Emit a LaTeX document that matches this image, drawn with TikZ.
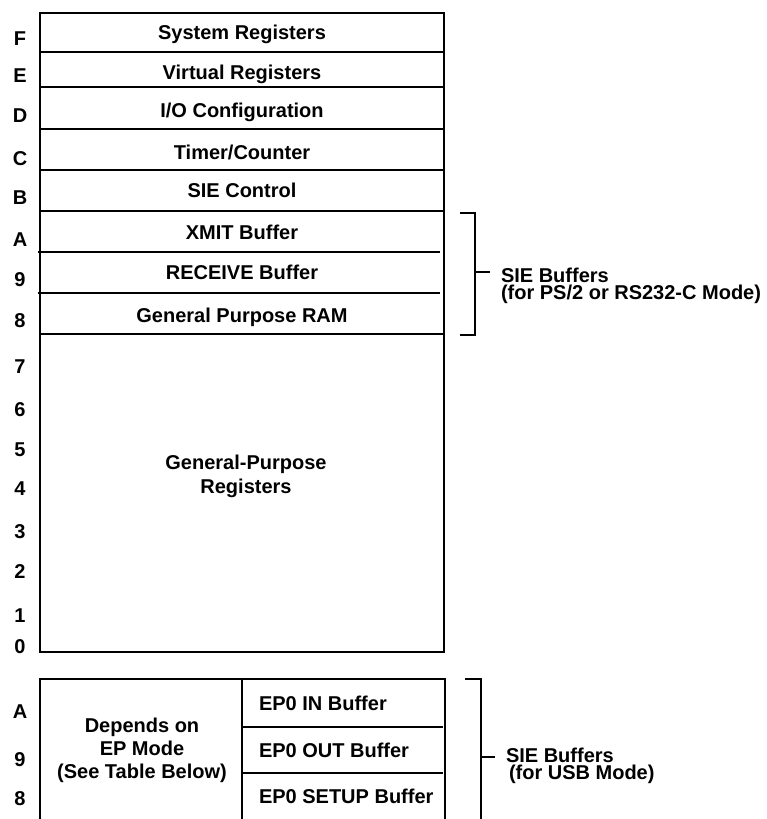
\documentclass[tikz,border=0pt]{standalone}
\usepackage{fontspec}
\setmainfont{Liberation Sans}
\usetikzlibrary{positioning}
\begin{document}
\begin{tikzpicture}[x=1pt,y=-1pt,line width=2pt,
  every node/.style={font=\bfseries\fontsize{20}{17}\selectfont,inner sep=0pt},
  addr/.style={anchor=base},
  cell/.style={anchor=base},
  brace/.style={anchor=base west,align=left}]
\useasboundingbox (0,0) rectangle (767,819);
% register page
\draw[black] (40,13) rectangle (444,652);
\draw[black] (40,52) -- (444,52);
\draw[black] (40,87) -- (444,87);
\draw[black] (40,129) -- (444,129);
\draw[black] (40,170) -- (444,170);
\draw[black] (40,211) -- (444,211);
\draw[black] (38,252) -- (440,252);
\draw[black] (38,293) -- (440,293);
\draw[black] (40,334) -- (444,334);
\node[cell] (sysreg) at (242,39) {System Registers};
\node[cell] (virtreg) at (242,79) {Virtual Registers};
\node[cell] (iocfg) at (242,117) {I/O Configuration};
\node[cell] (timer) at (242,159) {Timer/Counter};
\node[cell] (siectl) at (242,197) {SIE Control};
\node[cell] (xmit) at (242,239) {XMIT Buffer};
\node[cell] (recv) at (242,279) {RECEIVE Buffer};
\node[cell] (gpram) at (242,322) {General Purpose RAM};
\node[cell,align=center,font=\bfseries\fontsize{20}{24}\selectfont] (gpreg) at (246,493) {General-Purpose\\Registers};
\foreach \lab/\y in {F/45,E/82,D/122,C/165,B/204,A/246,9/286,8/327,
  7/373,6/416,5/456,4/495,3/538,2/578,1/622,0/653}
  \node[addr] (hi\lab) at (20,\y) {\lab};
% SIE buffers, PS/2 or RS232-C
\draw[black] (460,213) -- (475,213) -- (475,335) -- (460,335);
\coordinate (psmid) at (475,272);
\node[brace] (pslab) at (500,299) {SIE Buffers\\(for PS/2 or RS232-C Mode)};
\draw[black] (psmid) -- (490,272);
% USB page
\draw[black] (40,819) -- (40,679) -- (445,679) -- (445,819);
\draw[black] (242,679) -- (242,819);
\draw[black] (242,727) -- (443,727);
\draw[black] (242,773) -- (443,773);
\node[cell,align=center,font=\bfseries\fontsize{20}{23}\selectfont] (epmode) at (142,778) {Depends on\\EP Mode\\(See Table Below)};
\node[anchor=base west] (ep0in) at (258,710) {EP0 IN Buffer};
\node[anchor=base west] (ep0out) at (258,757) {EP0 OUT Buffer};
\node[anchor=base west] (ep0setup) at (258,803) {EP0 SETUP Buffer};
\foreach \lab/\y in {A/718,9/766,8/805}
  \node[addr] (lo\lab) at (20,\y) {\lab};
% SIE buffers, USB
\draw[black] (465,679) -- (481,679) -- (481,819);
\coordinate (usbmid) at (481,757);
\node[brace] (usblab) at (505,779) {SIE Buffers\\\hspace*{3pt}(for USB Mode)};
\draw[black] (usbmid) -- (495,757);
\end{tikzpicture}
\end{document}
